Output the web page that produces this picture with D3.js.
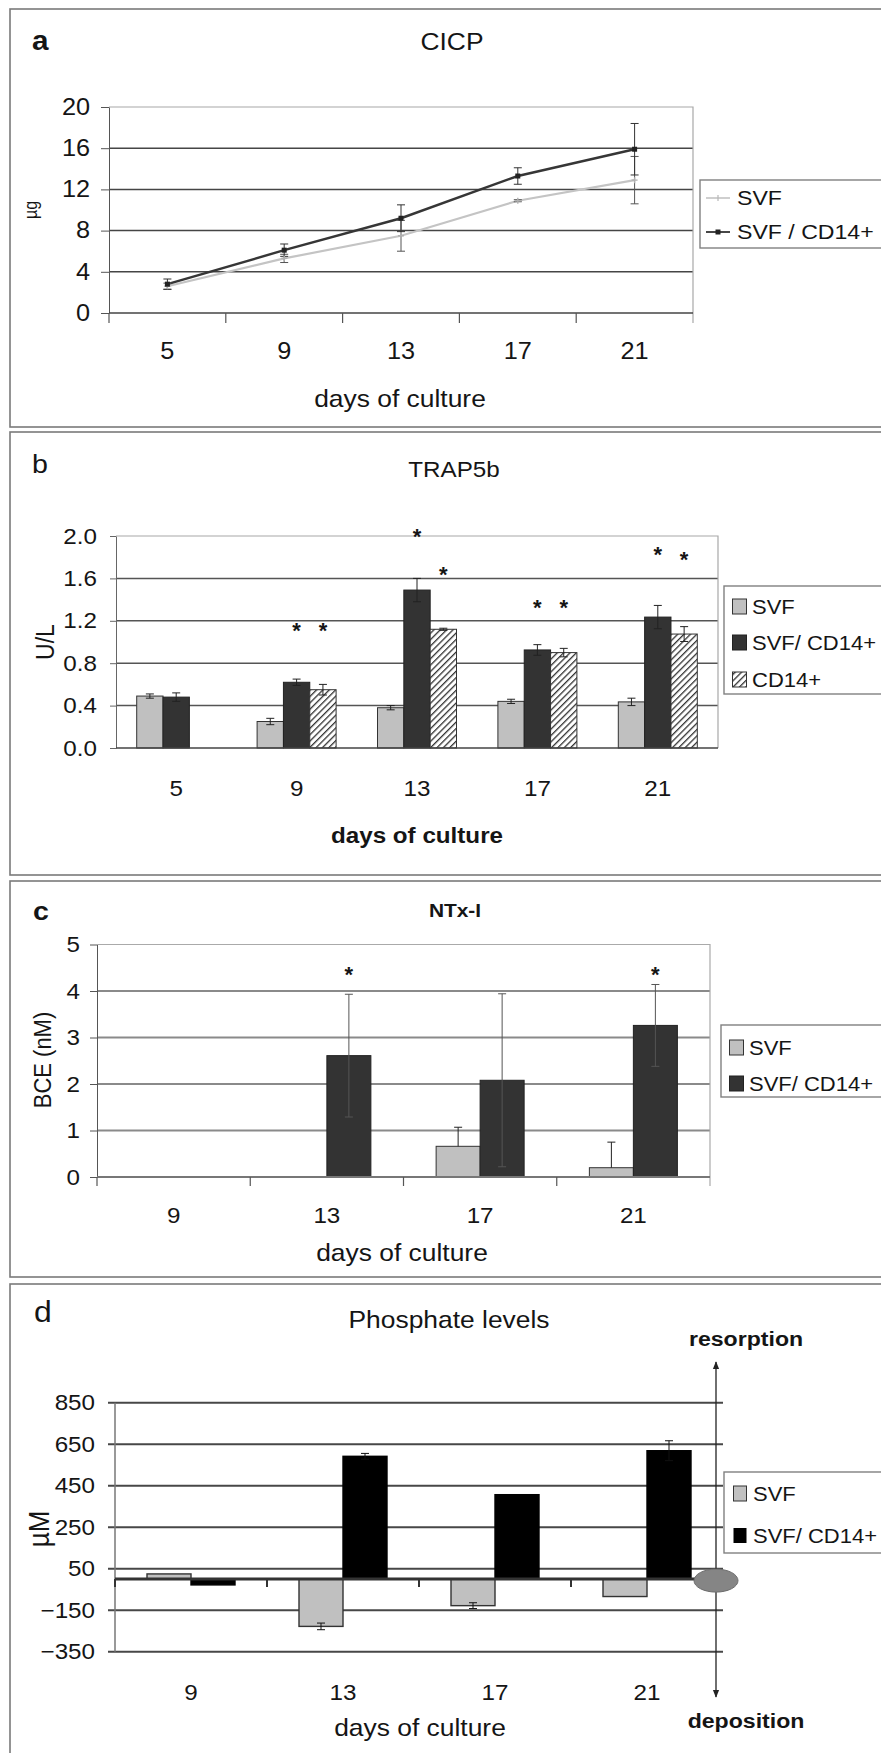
<!DOCTYPE html>
<html>
<head>
<meta charset="utf-8">
<script src="https://cdn.jsdelivr.net/npm/d3@7"></script>
<style>
  body { margin: 0; background: #fff; }
  svg { display: block; font-family: 'Liberation Sans', Arial, sans-serif; }
</style>
</head>
<body>
<div id="chart"></div>
<script>
// a - CICP (line chart)
var cicpDays = ['5', '9', '13', '17', '21'];
var cicpSvf = [2.6, 5.3, 7.5, 10.9, 12.9];
var cicpSvfErr = [0.3, 0.4, 1.5, 0.1, 2.3];
var cicpMix = [2.8, 6.1, 9.2, 13.3, 15.9];
var cicpMixErr = [0.5, 0.6, 1.3, 0.8, 2.5];
var cicpTicks = [0, 4, 8, 12, 16, 20];

// b - TRAP5b
var trapDays = ['5', '9', '13', '17', '21'];
var trapSvf = [0.49, 0.25, 0.38, 0.44, 0.435];
var trapSvfErr = [0.02, 0.03, 0.02, 0.02, 0.035];
var trapMix = [0.48, 0.62, 1.49, 0.925, 1.235];
var trapMixErr = [0.04, 0.03, 0.11, 0.05, 0.11];
var trapCd14 = [null, 0.55, 1.12, 0.90, 1.075];
var trapCd14Err = [0, 0.05, 0.01, 0.04, 0.07];
var trapMixStar = [null, 1.15, 2.04, 1.37, 1.87];
var trapCd14Star = [null, 1.15, 1.68, 1.37, 1.82];
var trapTicks = [0, 0.4, 0.8, 1.2, 1.6, 2.0];

// c - NTx-I
var ntxDays = ['9', '13', '17', '21'];
var ntxSvf = [0, 0, 0.66, 0.2];
var ntxSvfErr = [0, 0, 0.41, 0.55];
var ntxMix = [0, 2.61, 2.08, 3.26];
var ntxMixErr = [0, 1.32, 1.86, 0.88];
var ntxMixStar = [null, 4.46, null, 4.46];
var ntxTicks = [0, 1, 2, 3, 4, 5];

// d - phosphate
var phosDays = ['9', '13', '17', '21'];
var phosSvf = [25, -228, -128, -84];
var phosSvfErr = [0, 16, 14, 0];
var phosMix = [-28, 592, 407, 619];
var phosMixErr = [0, 14, 0, 48];
var phosTicks = [-350, -150, 50, 250, 450, 650, 850];

var SX = 1.1, TXT = '#151515';
var W = 881, H = 1753;

var svg = d3.select('#chart').append('svg').attr('width', W).attr('height', H);

var defs = svg.append('defs');
defs.append('pattern')
    .attr('id', 'hatch')
    .attr('patternUnits', 'userSpaceOnUse')
    .attr('width', 4.5).attr('height', 4.5)
    .attr('patternTransform', 'rotate(45)')
    .call(function (p) {
        p.append('rect').attr('width', 4.5).attr('height', 4.5).attr('fill', '#fff');
        p.append('line').attr('x1', 0).attr('y1', 0).attr('x2', 0).attr('y2', 4.5)
            .attr('stroke', '#333').attr('stroke-width', 2.6);
    });
defs.append('marker')
    .attr('id', 'arrow')
    .attr('viewBox', '0 0 10 10').attr('refX', 9).attr('refY', 5)
    .attr('markerWidth', 6).attr('markerHeight', 6)
    .attr('orient', 'auto-start-reverse')
    .append('path').attr('d', 'M0,1L10,5L0,9z').attr('fill', '#222');

function label(g, x, y, str, size, weight, anchor, rot) {
    return g.append('text')
        .attr('transform', 'translate(' + x + ',' + y + ') scale(' + SX + ',1)' + (rot ? ' rotate(-90)' : ''))
        .attr('text-anchor', anchor || 'middle')
        .attr('dy', rot ? '0.35em' : null)
        .attr('fill', TXT)
        .style('font-size', size + 'px')
        .style('font-weight', weight || 'normal')
        .text(str);
}

function stretchTicks(axisG, size) {
    axisG.selectAll('text').each(function () {
        var t = d3.select(this), x = +t.attr('x') || 0, y = +t.attr('y') || 0;
        t.attr('x', 0).attr('y', 0)
            .attr('transform', 'translate(' + x + ',' + y + ') scale(' + SX + ',1)');
    }).attr('fill', TXT).style('font-size', size + 'px').style('font-family', 'Liberation Sans, Arial, sans-serif');
}

function panelBox(top, h) {
    svg.append('rect')
        .attr('x', 10).attr('y', top).attr('width', 900).attr('height', h)
        .attr('fill', 'none').attr('stroke', '#7a7a7a').attr('stroke-width', 1.6);
}

function legendBox(g, x, y, h) {
    g.append('rect').attr('x', x).attr('y', y).attr('width', 200).attr('height', h)
        .attr('fill', '#fff').attr('stroke', '#808080').attr('stroke-width', 1.4);
}

function errBars(g, xs, ys, vals, errs, yScale, color, plusOnly) {
    vals.forEach(function (v, i) {
        if (v === null || !errs[i]) return;
        var x = xs(i), lo = yScale(plusOnly ? v : v - errs[i]), hi = yScale(v + errs[i]);
        g.append('line').attr('x1', x).attr('x2', x).attr('y1', lo).attr('y2', hi)
            .attr('stroke', color).attr('stroke-width', 1);
        g.append('line').attr('x1', x - 4).attr('x2', x + 4).attr('y1', hi).attr('y2', hi)
            .attr('stroke', color).attr('stroke-width', 1);
        if (!plusOnly) {
            g.append('line').attr('x1', x - 4).attr('x2', x + 4).attr('y1', lo).attr('y2', lo)
                .attr('stroke', color).attr('stroke-width', 1);
        }
    });
}

function stars(g, xs, vals, yScale) {
    vals.forEach(function (v, i) {
        if (v === null) return;
        g.append('text').attr('x', xs(i)).attr('y', yScale(v) + 12)
            .attr('text-anchor', 'middle').attr('fill', TXT)
            .style('font-size', '22px').style('font-weight', 'bold').text('*');
    });
}

// ---------- panel a ----------
(function () {
    var L = 109, R = 693, T = 107, B = 313;
    var g = svg.append('g');
    panelBox(9, 418);
    var x = d3.scaleBand().domain(cicpDays).range([L, R]);
    var y = d3.scaleLinear().domain([0, 20]).range([B, T]);
    var cx = function (i) { return x(cicpDays[i]) + x.bandwidth() / 2; };

    g.selectAll('.grid').data(cicpTicks.slice(1, -1)).join('line')
        .attr('x1', L).attr('x2', R).attr('y1', y).attr('y2', y)
        .attr('stroke', '#454545').attr('stroke-width', 1.5);
    g.append('path').attr('d', 'M' + L + ',' + y(20) + 'H' + R + 'V' + (B + 10))
        .attr('fill', 'none').attr('stroke', '#a8a8a8').attr('stroke-width', 1.2);

    var ya = g.append('g').attr('transform', 'translate(' + L + ',0)')
        .call(d3.axisLeft(y).tickValues(cicpTicks).tickSize(8).tickPadding(11).tickSizeOuter(0).tickFormat(d3.format('d')));
    ya.selectAll('path,line').attr('stroke', '#555');
    stretchTicks(ya, 23);

    g.append('line').attr('x1', L).attr('x2', R).attr('y1', B).attr('y2', B)
        .attr('stroke', '#444').attr('stroke-width', 1.5);
    g.selectAll('.xt').data(cicpDays).join('line')
        .attr('x1', function (d) { return x(d); }).attr('x2', function (d) { return x(d); })
        .attr('y1', B).attr('y2', B + 10).attr('stroke', '#555').attr('stroke-width', 1.2);
    var xa = g.append('g').attr('transform', 'translate(0,' + B + ')')
        .call(d3.axisBottom(x).tickSize(0).tickPadding(30));
    xa.select('.domain').remove();
    stretchTicks(xa, 23);

    var line = d3.line().x(function (d, i) { return cx(i); }).y(function (d) { return y(d); });
    g.append('path').datum(cicpSvf).attr('d', line)
        .attr('fill', 'none').attr('stroke', '#c4c4c4').attr('stroke-width', 2.2);
    g.append('path').datum(cicpMix).attr('d', line)
        .attr('fill', 'none').attr('stroke', '#363636').attr('stroke-width', 2.4);
    errBars(g, cx, null, cicpSvf, cicpSvfErr, y, '#555', false);
    errBars(g, cx, null, cicpMix, cicpMixErr, y, '#333', false);
    cicpSvf.forEach(function (v, i) {
        g.append('path').attr('d', 'M' + (cx(i) - 3) + ',' + y(v) + 'h6M' + cx(i) + ',' + (y(v) - 3) + 'v6')
            .attr('stroke', '#b0b0b0').attr('stroke-width', 1.4);
    });
    g.selectAll('.mk').data(cicpMix).join('rect')
        .attr('x', function (d, i) { return cx(i) - 2.5; }).attr('y', function (d) { return y(d) - 2.5; })
        .attr('width', 5).attr('height', 5).attr('fill', '#222');

    label(g, 32, 50, 'a', 27, 'bold', 'start');
    label(g, 452, 50, 'CICP', 24);
    label(g, 31, 210, 'µg', 16, 'normal', 'middle', true);
    label(g, 400, 407, 'days of culture', 24);

    legendBox(g, 700, 180, 68);
    g.append('line').attr('x1', 706).attr('x2', 730).attr('y1', 198).attr('y2', 198)
        .attr('stroke', '#c4c4c4').attr('stroke-width', 1.6);
    g.append('path').attr('d', 'M718,195v6').attr('stroke', '#b8b8b8').attr('stroke-width', 1.2);
    g.append('line').attr('x1', 706).attr('x2', 730).attr('y1', 232).attr('y2', 232)
        .attr('stroke', '#333').attr('stroke-width', 1.8);
    g.append('rect').attr('x', 715.5).attr('y', 229.5).attr('width', 5).attr('height', 5).attr('fill', '#222');
    label(g, 737, 205, 'SVF', 21, 'normal', 'start');
    label(g, 737, 239, 'SVF / CD14+', 21, 'normal', 'start');
})();

// ---------- panel b ----------
(function () {
    var L = 116, R = 718, T = 536, B = 748;
    var g = svg.append('g');
    panelBox(432, 443);
    var x = d3.scaleBand().domain(trapDays).range([L, R]);
    var inner = d3.scaleBand().domain(['svf', 'mix', 'cd14']).range([0, 79]);
    var y = d3.scaleLinear().domain([0, 2]).range([B, T]);
    var off = (x.bandwidth() - 79) / 2;
    var bx = function (k) { return function (i) { return x(trapDays[i]) + off + inner(k); }; };
    var bc = function (k) { return function (i) { return bx(k)(i) + inner.bandwidth() / 2; }; };

    g.selectAll('.grid').data(trapTicks.slice(1, -1)).join('line')
        .attr('x1', L).attr('x2', R).attr('y1', y).attr('y2', y)
        .attr('stroke', '#555').attr('stroke-width', 1.5);
    g.append('path').attr('d', 'M' + L + ',' + y(2) + 'H' + R + 'V' + B)
        .attr('fill', 'none').attr('stroke', '#a8a8a8').attr('stroke-width', 1.2);

    var ya = g.append('g').attr('transform', 'translate(' + L + ',0)')
        .call(d3.axisLeft(y).tickValues(trapTicks).tickSize(6).tickPadding(13).tickSizeOuter(0).tickFormat(d3.format('.1f')));
    ya.selectAll('path,line').attr('stroke', '#666');
    stretchTicks(ya, 22);

    var series = [
        { key: 'svf', vals: trapSvf, errs: trapSvfErr, fill: '#c0c0c0', stroke: '#333' },
        { key: 'mix', vals: trapMix, errs: trapMixErr, fill: '#333333', stroke: '#222' },
        { key: 'cd14', vals: trapCd14, errs: trapCd14Err, fill: 'url(#hatch)', stroke: '#333' }
    ];
    series.forEach(function (s) {
        var pts = s.vals.map(function (v, i) { return { v: v, i: i }; })
            .filter(function (d) { return d.v !== null; });
        g.selectAll('.bar-' + s.key).data(pts).join('rect')
            .attr('x', function (d) { return bx(s.key)(d.i); })
            .attr('y', function (d) { return y(d.v); })
            .attr('width', inner.bandwidth()).attr('height', function (d) { return B - y(d.v); })
            .attr('fill', s.fill).attr('stroke', s.stroke).attr('stroke-width', 1);
    });
    series.forEach(function (s) {
        errBars(g, bc(s.key), null, s.vals, s.errs, y, '#222', false);
    });
    g.append('line').attr('x1', L).attr('x2', R).attr('y1', B).attr('y2', B)
        .attr('stroke', '#444').attr('stroke-width', 1.5);
    stars(g, bc('mix'), trapMixStar, y);
    stars(g, bc('cd14'), trapCd14Star, y);

    var xa = g.append('g').attr('transform', 'translate(0,' + B + ')')
        .call(d3.axisBottom(x).tickSize(0).tickPadding(32));
    xa.select('.domain').remove();
    stretchTicks(xa, 22);

    label(g, 32, 473, 'b', 26, 'normal', 'start');
    label(g, 454, 477, 'TRAP5b', 22);
    label(g, 45, 642, 'U/L', 23, 'normal', 'middle', true);
    label(g, 417, 843, 'days of culture', 22, 'bold');

    legendBox(g, 724, 586, 108);
    g.append('rect').attr('x', 732.5).attr('y', 599).attr('width', 14).attr('height', 15)
        .attr('fill', '#c0c0c0').attr('stroke', '#333');
    g.append('rect').attr('x', 732.5).attr('y', 635).attr('width', 14).attr('height', 15)
        .attr('fill', '#333').attr('stroke', '#222');
    g.append('rect').attr('x', 732.5).attr('y', 672).attr('width', 14).attr('height', 15)
        .attr('fill', 'url(#hatch)').attr('stroke', '#333');
    label(g, 752, 614, 'SVF', 20, 'normal', 'start');
    label(g, 752, 650, 'SVF/ CD14+', 20, 'normal', 'start');
    label(g, 752, 687, 'CD14+', 20, 'normal', 'start');
})();

// ---------- panel c ----------
(function () {
    var L = 97, R = 710, T = 944.5, B = 1177;
    var g = svg.append('g');
    panelBox(881, 396);
    var x = d3.scaleBand().domain(ntxDays).range([L, R]);
    var y = d3.scaleLinear().domain([0, 5]).range([B, T]);
    var bw = 44;
    var cx = function (i) { return x(ntxDays[i]) + x.bandwidth() / 2; };

    g.selectAll('.grid').data(ntxTicks.slice(1, -1)).join('line')
        .attr('x1', L).attr('x2', R).attr('y1', y).attr('y2', y)
        .attr('stroke', '#8a8a8a').attr('stroke-width', 2);
    g.append('path').attr('d', 'M' + L + ',' + y(5) + 'H' + R + 'V' + (B + 9))
        .attr('fill', 'none').attr('stroke', '#aaa').attr('stroke-width', 1.2);

    var ya = g.append('g').attr('transform', 'translate(' + L + ',0)')
        .call(d3.axisLeft(y).tickValues(ntxTicks).tickSize(7).tickPadding(10).tickSizeOuter(0).tickFormat(d3.format('d')));
    ya.selectAll('path,line').attr('stroke', '#555');
    stretchTicks(ya, 22);

    g.selectAll('.b1').data(ntxSvf).join('rect')
        .attr('x', function (d, i) { return cx(i) - bw; })
        .attr('y', function (d) { return y(d); })
        .attr('width', bw).attr('height', function (d) { return B - y(d); })
        .attr('fill', '#c0c0c0').attr('stroke', function (d) { return d ? '#333' : 'none'; });
    g.selectAll('.b2').data(ntxMix).join('rect')
        .attr('x', function (d, i) { return cx(i); })
        .attr('y', function (d) { return y(d); })
        .attr('width', bw).attr('height', function (d) { return B - y(d); })
        .attr('fill', '#333').attr('stroke', function (d) { return d ? '#222' : 'none'; });
    errBars(g, function (i) { return cx(i) - bw / 2; }, null, ntxSvf, ntxSvfErr, y, '#222', true);
    errBars(g, function (i) { return cx(i) + bw / 2; }, null, ntxMix, ntxMixErr, y, '#555', false);
    stars(g, function (i) { return cx(i) + bw / 2; }, ntxMixStar, y);

    g.append('line').attr('x1', L).attr('x2', R).attr('y1', B).attr('y2', B)
        .attr('stroke', '#777').attr('stroke-width', 2);
    g.selectAll('.xt').data(ntxDays).join('line')
        .attr('x1', function (d) { return x(d); }).attr('x2', function (d) { return x(d); })
        .attr('y1', B).attr('y2', B + 9).attr('stroke', '#555').attr('stroke-width', 1.2);
    var xa = g.append('g').attr('transform', 'translate(0,' + B + ')')
        .call(d3.axisBottom(x).tickSize(0).tickPadding(30));
    xa.select('.domain').remove();
    stretchTicks(xa, 22);

    label(g, 33, 920, 'c', 26, 'bold', 'start');
    label(g, 455, 917, 'NTx-I', 19, 'bold');
    label(g, 43, 1060, 'BCE (nM)', 22, 'normal', 'middle', true);
    label(g, 402, 1261, 'days of culture', 24);

    legendBox(g, 721, 1025, 72);
    g.append('rect').attr('x', 729.5).attr('y', 1040).attr('width', 14).attr('height', 15)
        .attr('fill', '#c0c0c0').attr('stroke', '#333');
    g.append('rect').attr('x', 729.5).attr('y', 1076).attr('width', 14).attr('height', 15)
        .attr('fill', '#333').attr('stroke', '#222');
    label(g, 749, 1055, 'SVF', 20, 'normal', 'start');
    label(g, 749, 1091, 'SVF/ CD14+', 20, 'normal', 'start');
})();

// ---------- panel d ----------
(function () {
    var L = 115, R = 723, B = 1651.7;
    var g = svg.append('g');
    panelBox(1284, 500);
    var x = d3.scaleBand().domain(phosDays).range([L, R]);
    var y = d3.scaleLinear().domain([-350, 850]).range([B, 1402.8]);
    var bw = 44, y0 = y(0), ax = 716;
    var cx = function (i) { return x(phosDays[i]) + x.bandwidth() / 2; };

    g.selectAll('.grid').data(phosTicks).join('line')
        .attr('x1', L - 7).attr('x2', R).attr('y1', y).attr('y2', y)
        .attr('stroke', '#474747').attr('stroke-width', 2);
    g.append('line').attr('x1', L).attr('x2', L).attr('y1', y(850)).attr('y2', y(-350))
        .attr('stroke', '#777').attr('stroke-width', 1.5);

    var ya = g.append('g').attr('transform', 'translate(' + L + ',0)')
        .call(d3.axisLeft(y).tickValues(phosTicks).tickSize(7).tickPadding(13).tickSizeOuter(0).tickFormat(d3.format('d')));
    ya.selectAll('path,line').attr('stroke', 'none');
    stretchTicks(ya, 22);

    var rect = function (cls, vals, dx, fill, stroke) {
        g.selectAll('.' + cls).data(vals).join('rect')
            .attr('x', function (d, i) { return cx(i) + dx; })
            .attr('y', function (d) { return Math.min(y(d), y0); })
            .attr('width', bw).attr('height', function (d) { return Math.abs(y(d) - y0); })
            .attr('fill', fill).attr('stroke', stroke).attr('stroke-width', 1.4);
    };
    rect('b1', phosSvf, -bw, '#c0c0c0', '#333');
    rect('b2', phosMix, 0, '#000', '#000');
    errBars(g, function (i) { return cx(i) - bw / 2; }, null, phosSvf, phosSvfErr, y, '#111', false);
    errBars(g, function (i) { return cx(i) + bw / 2; }, null, phosMix, phosMixErr, y, '#111', false);

    g.append('line').attr('x1', L).attr('x2', R).attr('y1', y0).attr('y2', y0)
        .attr('stroke', '#333').attr('stroke-width', 3);
    g.selectAll('.xt').data(phosDays).join('line')
        .attr('x1', function (d) { return x(d); }).attr('x2', function (d) { return x(d); })
        .attr('y1', y0).attr('y2', y0 + 8).attr('stroke', '#333').attr('stroke-width', 2);

    var xa = g.append('g').attr('transform', 'translate(0,' + B + ')')
        .call(d3.axisBottom(x).tickSize(0).tickPadding(33));
    xa.select('.domain').remove();
    stretchTicks(xa, 22);

    g.append('line').attr('x1', ax).attr('x2', ax).attr('y1', 1362).attr('y2', 1697)
        .attr('stroke', '#222').attr('stroke-width', 1.3)
        .attr('marker-start', 'url(#arrow)').attr('marker-end', 'url(#arrow)');
    g.append('ellipse').attr('cx', ax).attr('cy', y0 + 1.5).attr('rx', 22).attr('ry', 11.5)
        .attr('fill', '#858585').attr('stroke', '#6e6e6e').attr('stroke-width', 1);

    label(g, 34, 1322, 'd', 29, 'normal', 'start');
    label(g, 449, 1328, 'Phosphate levels', 24);
    label(g, 746, 1346, 'resorption', 21, 'bold');
    label(g, 746, 1728, 'deposition', 21, 'bold');
    label(g, 39, 1529, 'µM', 26, 'normal', 'middle', true);
    label(g, 420, 1736, 'days of culture', 24);

    legendBox(g, 724, 1472, 81);
    g.append('rect').attr('x', 733.5).attr('y', 1486).attr('width', 13).attr('height', 15)
        .attr('fill', '#c0c0c0').attr('stroke', '#333');
    g.append('rect').attr('x', 733.5).attr('y', 1528).attr('width', 13).attr('height', 15)
        .attr('fill', '#000');
    label(g, 753, 1501, 'SVF', 20, 'normal', 'start');
    label(g, 753, 1543, 'SVF/ CD14+', 20, 'normal', 'start');
})();
</script>
</body>
</html>
